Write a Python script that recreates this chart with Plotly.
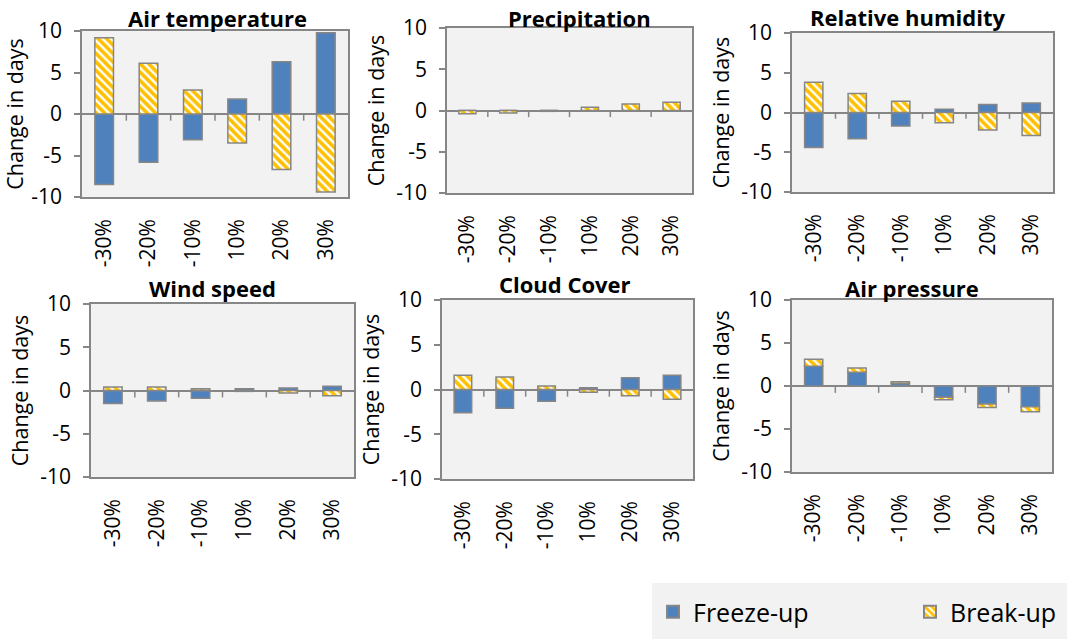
import plotly.graph_objects as go

# Sensitivity of ice phenology to +/- changes in each meteorological driver
categories = ["-30%", "-20%", "-10%", "10%", "20%", "30%"]

panel_titles = ["Air temperature", "Precipitation", "Relative humidity",
                "Wind speed", "Cloud Cover", "Air pressure"]

freeze_air_temp = [-8.5, -5.8, -3.1, 1.8, 6.3, 9.8]
break_air_temp = [9.2, 6.1, 2.9, -3.5, -6.7, -9.4]

freeze_precip = [0.0, 0.0, 0.0, 0.0, 0.0, 0.0]
break_precip = [-0.4, -0.3, -0.1, 0.4, 0.8, 1.0]

freeze_rh = [-4.4, -3.3, -1.7, 0.4, 1.0, 1.2]
break_rh = [3.8, 2.4, 1.4, -1.3, -2.2, -2.9]

freeze_wind = [-1.5, -1.2, -0.9, 0.2, 0.3, 0.5]
break_wind = [0.4, 0.4, 0.2, -0.1, -0.3, -0.6]

freeze_cloud = [-2.6, -2.1, -1.3, 0.2, 1.3, 1.6]
break_cloud = [1.6, 1.4, 0.4, -0.3, -0.7, -1.1]

freeze_pressure = [2.3, 1.6, 0.3, -1.3, -2.1, -2.4]
break_pressure = [0.8, 0.5, 0.2, -0.3, -0.4, -0.6]

y_ticks = [-10, -5, 0, 5, 10]
y_tick_labels = ["-10", "-5", "0", "5", "10"]

freeze_series = [freeze_air_temp, freeze_precip, freeze_rh,
                 freeze_wind, freeze_cloud, freeze_pressure]
break_series = [break_air_temp, break_precip, break_rh,
                break_wind, break_cloud, break_pressure]

W, H = 1067, 639
# plot-area boxes in pixels: left, right, top, bottom
boxes = [
    (82, 348, 31, 197),
    (447, 692, 28, 193),
    (792, 1053, 33, 192),
    (91, 354, 304, 477),
    (442, 693, 300, 479),
    (792, 1052, 300, 472),
]
# panel title centres in pixels (x, y)
title_pos = [(217, 18), (579, 18), (907, 17), (212, 288), (565, 284), (912, 288)]

FONT = "Open Sans"
AXIS_GRAY = "#868686"
BLUE = "#4F81BD"
GOLD = "#FFC000"

fig = go.Figure()
layout = dict(
    width=W, height=H,
    margin=dict(l=0, r=0, t=0, b=0, autoexpand=False),
    paper_bgcolor="white",
    plot_bgcolor="#F2F2F2",
    barmode="relative",
    bargap=0.58,
    font=dict(family=FONT, size=21, color="black"),
    showlegend=True,
)

shapes = []
annotations = []

for i, (title, fr, br, (l, r, t, b), (tx, ty)) in enumerate(
        zip(panel_titles, freeze_series, break_series, boxes, title_pos)):
    n = "" if i == 0 else str(i + 1)
    xa, ya = "x" + n, "y" + n
    fig.add_trace(go.Bar(
        x=categories, y=fr, name="Freeze-up",
        xaxis=xa, yaxis=ya, showlegend=(i == 0), legendgroup="f",
        marker=dict(color=BLUE, line=dict(color=AXIS_GRAY, width=1.5)),
    ))
    fig.add_trace(go.Bar(
        x=categories, y=br, name="Break-up",
        xaxis=xa, yaxis=ya, showlegend=(i == 0), legendgroup="b",
        marker=dict(color=GOLD,
                    line=dict(color=AXIS_GRAY, width=1.5),
                    pattern=dict(shape="\\", fgcolor=GOLD, bgcolor="white",
                                 size=6, solidity=0.6, fillmode="replace")),
    ))
    layout["xaxis" + n] = dict(
        domain=[l / W, r / W], anchor=ya, type="category",
        range=[-0.5, 5.5], tickangle=-90, ticks="",
        showline=True, mirror=True, linecolor=AXIS_GRAY, linewidth=1.5,
        showgrid=False, tickfont=dict(size=21), automargin=False,
        ticklabelstandoff=12,
    )
    layout["yaxis" + n] = dict(
        domain=[1 - b / H, 1 - t / H], anchor=xa, range=[-10, 10],
        tickvals=y_ticks, ticktext=y_tick_labels,
        ticks="outside", ticklen=6, tickcolor=AXIS_GRAY, tickwidth=1.5,
        showline=True, mirror=True, linecolor=AXIS_GRAY, linewidth=1.5,
        showgrid=False, zeroline=True, zerolinecolor=AXIS_GRAY,
        zerolinewidth=2, tickfont=dict(size=21), automargin=False,
        ticklabelstandoff=8,
        title=dict(text="Change in days", font=dict(size=21.5), standoff=6),
    )
    # category-boundary tick marks hanging from the zero line
    for k in range(len(categories) - 1):
        shapes.append(dict(type="line", xref=xa, yref=ya,
                           x0=k + 0.5, x1=k + 0.5, y0=0, y1=-0.8,
                           line=dict(color=AXIS_GRAY, width=1.5)))
    annotations.append(dict(
        text="<b>" + title + "</b>", xref="paper", yref="paper",
        x=tx / W, y=1 - ty / H, xanchor="center",
        yanchor="middle", showarrow=False,
        font=dict(size=22, family=FONT, color="black"),
    ))

# legend panel
shapes.append(dict(type="rect", xref="paper", yref="paper",
                   x0=652 / W, x1=1, y0=0, y1=1 - 583 / H,
                   fillcolor="#F2F2F2", line=dict(width=0), layer="below"))

layout["shapes"] = shapes
layout["annotations"] = annotations
layout["legend"] = dict(
    orientation="h", x=653 / W, xanchor="left",
    y=1 - 612 / H, yanchor="middle",
    bgcolor="rgba(0,0,0,0)", font=dict(size=25, family=FONT),
    entrywidth=212, entrywidthmode="pixels", traceorder="normal",
    itemsizing="constant",
)

fig.update_layout(**layout)
fig.write_html("out.html")
